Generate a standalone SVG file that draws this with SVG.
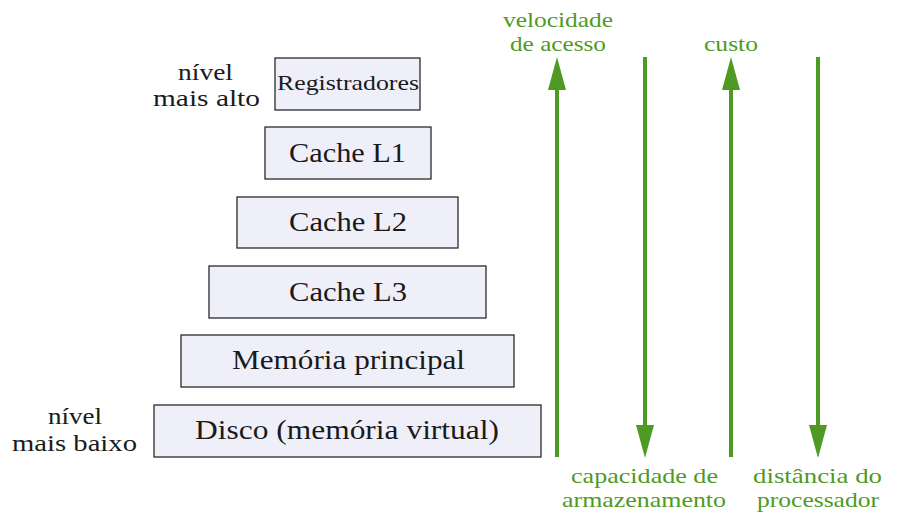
<svg xmlns="http://www.w3.org/2000/svg" width="897" height="514" viewBox="0 0 897 514">
<style>
.box{fill:#efeffa;stroke:#2a2a2a;stroke-width:1.3}
.ln{stroke:#4e9a25;stroke-width:4;fill:none}
.ah{fill:#4e9a25}
</style>
<rect width="897" height="514" fill="#fff"/>
<g id="registradores"><rect class="box" x="275" y="58" width="145" height="52"/><text x="277" y="90" style="font-family:'Liberation Serif',serif;font-size:21px" fill="#1a1a1a" textLength="142" lengthAdjust="spacingAndGlyphs">Registradores</text></g>
<g id="cacheL1"><rect class="box" x="265" y="127" width="166" height="52"/><text x="289" y="162" style="font-family:'Liberation Serif',serif;font-size:27px" fill="#1a1a1a" textLength="117" lengthAdjust="spacingAndGlyphs">Cache L1</text></g>
<g id="cacheL2"><rect class="box" x="237" y="197" width="221" height="51"/><text x="289" y="231" style="font-family:'Liberation Serif',serif;font-size:27px" fill="#1a1a1a" textLength="118" lengthAdjust="spacingAndGlyphs">Cache L2</text></g>
<g id="cacheL3"><rect class="box" x="209" y="266" width="277" height="52"/><text x="289" y="301" style="font-family:'Liberation Serif',serif;font-size:27px" fill="#1a1a1a" textLength="118" lengthAdjust="spacingAndGlyphs">Cache L3</text></g>
<g id="memoria"><rect class="box" x="181" y="335" width="333" height="52"/><text x="232" y="369" style="font-family:'Liberation Serif',serif;font-size:27px" fill="#1a1a1a" textLength="233" lengthAdjust="spacingAndGlyphs">Memória principal</text></g>
<g id="disco"><rect class="box" x="154" y="405" width="387" height="52"/><text x="195" y="439" style="font-family:'Liberation Serif',serif;font-size:27px" fill="#1a1a1a" textLength="304" lengthAdjust="spacingAndGlyphs">Disco (memória virtual)</text></g>
<g id="nivel-alto"><text x="178" y="80" style="font-family:'Liberation Serif',serif;font-size:23px" fill="#1a1a1a" textLength="55" lengthAdjust="spacingAndGlyphs">nível</text><text x="153" y="106" style="font-family:'Liberation Serif',serif;font-size:23px" fill="#1a1a1a" textLength="107" lengthAdjust="spacingAndGlyphs">mais alto</text></g>
<g id="nivel-baixo"><text x="48" y="424" style="font-family:'Liberation Serif',serif;font-size:23px" fill="#1a1a1a" textLength="54" lengthAdjust="spacingAndGlyphs">nível</text><text x="12" y="451" style="font-family:'Liberation Serif',serif;font-size:23px" fill="#1a1a1a" textLength="125" lengthAdjust="spacingAndGlyphs">mais baixo</text></g>
<g id="connectors">
<line class="ln" x1="557" y1="457" x2="557" y2="85"/><polygon class="ah" points="557,57 548,90 566,90"/>
<line class="ln" x1="645" y1="57" x2="645" y2="430"/><polygon class="ah" points="645,458 636,425 654,425"/>
<line class="ln" x1="731" y1="457" x2="731" y2="85"/><polygon class="ah" points="731,57 722,90 740,90"/>
<line class="ln" x1="818" y1="57" x2="818" y2="430"/><polygon class="ah" points="818,458 809,425 827,425"/>
</g>
<g id="labels">
<text x="503" y="27" style="font-family:'Liberation Serif',serif;font-size:22px" fill="#4e9a25" textLength="110" lengthAdjust="spacingAndGlyphs">velocidade</text>
<text x="510" y="51" style="font-family:'Liberation Serif',serif;font-size:22px" fill="#4e9a25" textLength="96" lengthAdjust="spacingAndGlyphs">de acesso</text>
<text x="704" y="51" style="font-family:'Liberation Serif',serif;font-size:22px" fill="#4e9a25" textLength="54" lengthAdjust="spacingAndGlyphs">custo</text>
<text x="571" y="483" style="font-family:'Liberation Serif',serif;font-size:22px" fill="#4e9a25" textLength="147" lengthAdjust="spacingAndGlyphs">capacidade de</text>
<text x="562" y="507" style="font-family:'Liberation Serif',serif;font-size:22px" fill="#4e9a25" textLength="164" lengthAdjust="spacingAndGlyphs">armazenamento</text>
<text x="753" y="483" style="font-family:'Liberation Serif',serif;font-size:22px" fill="#4e9a25" textLength="129" lengthAdjust="spacingAndGlyphs">distância do</text>
<text x="757" y="507" style="font-family:'Liberation Serif',serif;font-size:22px" fill="#4e9a25" textLength="122" lengthAdjust="spacingAndGlyphs">processador</text>
</g>
</svg>
